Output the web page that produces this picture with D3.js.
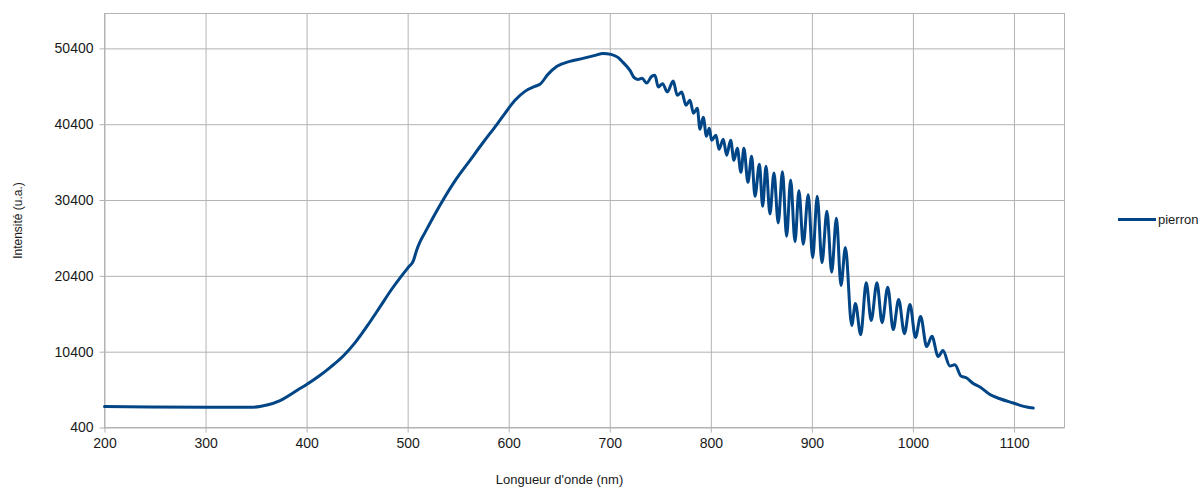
<!DOCTYPE html>
<html>
<head>
<meta charset="utf-8">
<script src="https://cdn.jsdelivr.net/npm/d3@7"></script>
<style>
  body { margin: 0; background: #fff; }
  text { font-family: "Liberation Sans", Arial, sans-serif; fill: #1a1a1a; }
  .grid line { stroke: #b3b3b3; }
  .grid path { display: none; }
  .axis path { display: none; }
  .axis line { stroke: #b3b3b3; }
</style>
</head>
<body>
<svg id="chart" width="1202" height="487"></svg>
<script>
// wavelength (nm) / intensity (u.a.)
const wavelengths = [200, 245, 300.4, 344, 353.9, 360.8, 373.7, 393.4, 400, 412,
  424, 436, 448, 460, 472.6, 484, 494, 500.6, 505.6, 508.9, 512.2,
  517.1, 526, 534.9, 548, 561.7, 575, 588.4, 596.3, 606.2, 616.1, 626, 630.9, 638.8,
  647.8, 660.6, 673.5, 685.4, 693.3, 701.2, 708.1, 713.1, 720, 723.9,
  727.9, 731.9, 736.5, 741.5, 744.7, 748, 752.3, 756.9, 762.8, 766.8,
  771.2, 775.4, 779.4, 782.8, 786.6, 789.3, 792.5, 795.7, 798.5, 800.8,
  805.1, 808.1, 812.3, 815.7, 819.6, 822.9, 826.2, 829.8, 832.8, 836.7,
  840.4, 843.7, 848.1, 851.3, 854.6, 858.5, 862.5, 866.7, 870.9, 875,
  879, 883.3, 887.2, 891.5, 896.4, 900.8, 905.3, 910, 914.9, 919.6,
  924.3, 928.8, 933.2, 939.4, 943.1, 948.3, 953.8, 958.7, 964.4, 969.5,
  975.1, 980.5, 985.9, 991.6, 997.1, 1002.5, 1007.6, 1013.6, 1018.8, 1025,
  1029.7, 1036.6, 1041.6, 1047.5, 1052.8, 1059.7, 1066.3, 1076.2, 1086.1, 1099.3,
  1112.5, 1119.1];

const pierron = [3170, 3100, 3060, 3070, 3170, 3360, 3960, 5540, 6070, 7150,
  8400, 9800, 11600, 13800, 16300, 18600, 20400, 21510, 22380, 23790, 24880,
  26100, 28300, 30370, 33150, 35640, 38050, 40390, 41840, 43550, 44730, 45390, 45660, 46970,
  48030, 48690, 49080, 49480, 49740, 49610, 49210, 48550, 47500, 46580,
  46310, 46450, 45830, 46710, 46840, 45300, 45750, 44640, 46090, 44210,
  44640, 42890, 43550, 41840, 42490, 39730, 41310, 38810, 39860, 38280,
  38940, 37090, 38410, 36300, 38280, 35640, 37220, 34060, 37220, 32740,
  36170, 30900, 35120, 29580, 34850, 28570, 33970, 27380, 34130, 25630,
  33050, 24910, 31620, 24580, 31100, 22800, 30900, 22140, 28920, 20890,
  28000, 19130, 24140, 13860, 16740, 12630, 19480, 14520, 19480, 14230,
  18910, 13310, 17290, 12780, 16630, 12260, 15050, 11070, 12420, 9750,
  10540, 8500, 8670, 7190, 6960, 6200, 5740, 4750, 4190, 3630,
  3100, 2970];

const xTicks = [200, 300, 400, 500, 600, 700, 800, 900, 1000, 1100];
const yTicks = [400, 10400, 20400, 30400, 40400, 50400];

const seriesName = "pierron";
const xTitle = "Longueur d'onde (nm)";
const yTitle = "Intensité (u.a.)";

/**
 * LAYOUT
 */
const plotLeft = 104.5, plotRight = 1064.5, plotTop = 13.5, plotBottom = 427.5;

const svg = d3.select("#chart");

const x = d3.scaleLinear().domain([200, 1150]).range([plotLeft, plotRight]);
const y = d3.scaleLinear().domain([400, 55000]).range([plotBottom, plotTop]);

/**
 * GRID
 */
svg.append("g")
  .attr("class", "grid")
  .attr("transform", `translate(0,${plotBottom})`)
  .call(d3.axisBottom(x).tickValues(xTicks).tickSize(-(plotBottom - plotTop)).tickFormat(""));

svg.append("g")
  .attr("class", "grid")
  .attr("transform", `translate(${plotLeft},0)`)
  .call(d3.axisLeft(y).tickValues(yTicks).tickSize(-(plotRight - plotLeft)).tickFormat(""));

svg.append("rect")
  .attr("x", plotLeft).attr("y", plotTop)
  .attr("width", plotRight - plotLeft).attr("height", plotBottom - plotTop)
  .attr("fill", "none").attr("stroke", "#b3b3b3");

/**
 * AXES
 */
svg.append("g")
  .attr("class", "axis")
  .attr("transform", `translate(0,${plotBottom})`)
  .call(d3.axisBottom(x).tickValues(xTicks).tickSize(5).tickPadding(6).tickFormat(d3.format("d")))
  .selectAll("text")
  .style("font-size", "14px");

svg.append("g")
  .attr("class", "axis")
  .attr("transform", `translate(${plotLeft},0)`)
  .call(d3.axisLeft(y).tickValues(yTicks).tickSize(5).tickPadding(6).tickFormat(d3.format("d")))
  .selectAll("text")
  .style("font-size", "14px");

svg.append("text")
  .attr("x", (plotLeft + plotRight) / 2 - 25)
  .attr("y", 484)
  .attr("text-anchor", "middle")
  .style("font-size", "13px")
  .text(xTitle);

svg.append("text")
  .attr("transform", `translate(22,${(plotTop + plotBottom) / 2}) rotate(-90)`)
  .attr("text-anchor", "middle")
  .style("font-size", "12px")
  .text(yTitle);

/**
 * SERIES
 */
const points = d3.zip(wavelengths, pierron);

const line = d3.line()
  .x(d => x(d[0]))
  .y(d => y(d[1]))
  .curve(d3.curveMonotoneX);

svg.append("path")
  .datum(points)
  .attr("d", line)
  .attr("fill", "none")
  .attr("stroke", "#004586")
  .attr("stroke-width", 3)
  .attr("stroke-linejoin", "round")
  .attr("stroke-linecap", "round");

/**
 * LEGEND
 */
const legend = svg.append("g").attr("transform", "translate(1118,219.5)");

legend.append("line")
  .attr("x1", 0).attr("x2", 38)
  .attr("stroke", "#004586")
  .attr("stroke-width", 3);

legend.append("text")
  .attr("x", 40)
  .attr("dy", "0.35em")
  .style("font-size", "13px")
  .text(seriesName);
</script>
</body>
</html>
